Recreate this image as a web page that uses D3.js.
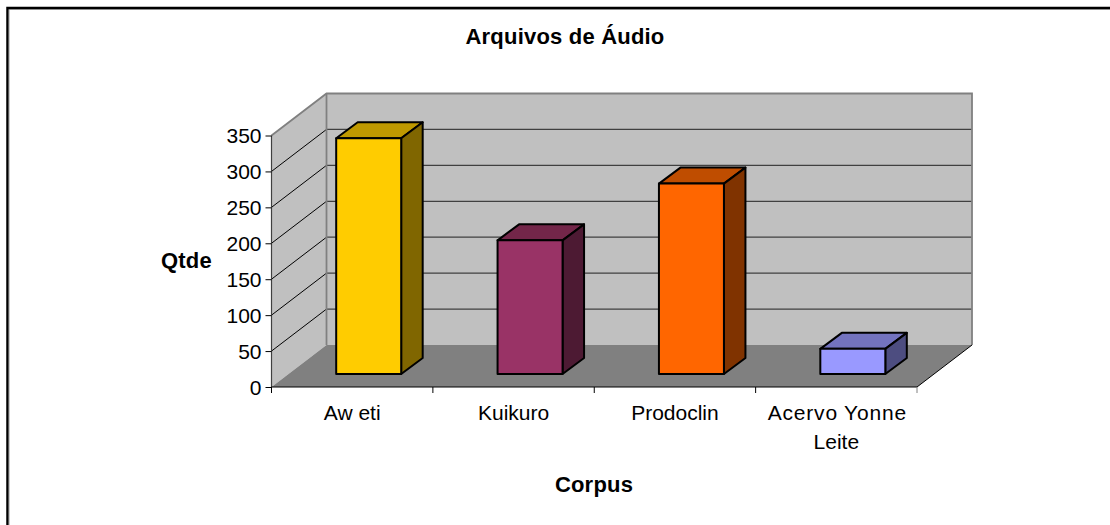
<!DOCTYPE html>
<html><head><meta charset="utf-8">
<script src="https://cdn.jsdelivr.net/npm/d3@7"></script>
<style>html,body{margin:0;padding:0;background:#fff}svg{display:block}text{font-family:"Liberation Sans",Arial,sans-serif;fill:#000}</style>
</head><body><svg width="1110" height="525"></svg>
<script>
const categories = ["Aweti","Kuikuro","Prodoclin","Acervo Yonne Leite"];
const categoryLines = [["Aw eti"],["Kuikuro"],["Prodoclin"],["Acervo Yonne","Leite"]];
const values = [328,186,265,35];
const frontColors = ["#FFCC00","#993366","#FF6600","#9999FF"];
const topColors = ["#BF9900","#732649","#BF4D00","#7373BF"];
const sideColors = ["#806600","#4D1A33","#803300","#4D4D80"];
const yTicks = [0,50,100,150,200,250,300,350];
const title = "Arquivos de Áudio", xTitle = "Corpus", yTitle = "Qtde";

const svg = d3.select("svg");
const x = d3.scaleBand().domain(categories).range([271.5,917]);
const y = d3.scaleLinear().domain([0,350]).range([387,135.5]);
const wallDx = 55, wallDy = -42;
const path = pts => d3.line()(pts);

// chart-area frame: only the top and left edges fall inside the picture
svg.append("path").attr("d","M7.5,525V8H1110").attr("fill","none").attr("stroke","#000").attr("stroke-width",2.5);
svg.append("path").attr("d","M9,525V9.5H1110").attr("fill","none").attr("stroke","#808080").attr("stroke-width",.8);

const [x0,x1] = x.range(), yb = y(0), yt = y(350);
svg.append("path").attr("d",path([[x0,yb],[x0+wallDx,yb+wallDy],[x0+wallDx,yt+wallDy],[x0,yt]])+"Z").attr("fill","#C0C0C0");
svg.append("path").attr("d",path([[x0+wallDx,yb+wallDy],[x1+wallDx,yb+wallDy],[x1+wallDx,yt+wallDy],[x0+wallDx,yt+wallDy]])+"Z").attr("fill","#C0C0C0");
svg.append("path").attr("d",path([[x0,yb],[x0+wallDx,yb+wallDy],[x1+wallDx,yb+wallDy],[x1,yb]])+"Z").attr("fill","#808080");
// gridlines
yTicks.slice(1,-1).forEach(t=>{
  svg.append("path").attr("d",path([[x0,y(t)],[x0+wallDx,y(t)+wallDy]])).attr("fill","none").attr("stroke","#000").attr("stroke-width",1);
  svg.append("path").attr("d",path([[x0+wallDx,y(t)+wallDy],[x1+wallDx,y(t)+wallDy]])).attr("fill","none").attr("stroke","#404040").attr("stroke-width",1.3);
});
// wall outlines
svg.append("path").attr("d",path([[x0,yt],[x0+wallDx,yt+wallDy],[x1+wallDx,yt+wallDy],[x1+wallDx,yb+wallDy]])).attr("fill","none").attr("stroke","#808080").attr("stroke-width",1.8);
svg.append("path").attr("d",path([[x0+wallDx,yt+wallDy],[x0+wallDx,yb+wallDy]])).attr("fill","none").attr("stroke","#808080").attr("stroke-width",1.8);
svg.append("path").attr("d",path([[x1,yb],[x1+wallDx,yb+wallDy]])).attr("fill","none").attr("stroke","#000").attr("stroke-width",1);

// bars
const barW = 65, fx = 16.5, fy = 13, bdx = 21.5, bdy = -16;
categories.forEach((c,i)=>{
  const l = x(c)+x.bandwidth()/2-barW/2+fx, r = l+barW, b = yb-fy, t = y(values[i])-fy;
  const g = svg.append("g").attr("stroke","#000").attr("stroke-width",2).attr("stroke-linejoin","round");
  g.append("path").attr("d",path([[l,t],[l+bdx,t+bdy],[r+bdx,t+bdy],[r,t]])+"Z").attr("fill",topColors[i]);
  g.append("path").attr("d",path([[r,t],[r+bdx,t+bdy],[r+bdx,b+bdy],[r,b]])+"Z").attr("fill",sideColors[i]);
  g.append("rect").attr("x",l).attr("y",t).attr("width",barW).attr("height",b-t).attr("fill",frontColors[i]);
});

// axes
const yAxis = d3.axisLeft(y).tickValues(yTicks).tickSize(6).tickPadding(4);
const ya = svg.append("g").attr("transform",`translate(${x0},0)`).call(yAxis);
ya.selectAll("text").style("font-size","21px").attr("dy","7");
ya.selectAll(".tick line").attr("stroke","#000");
ya.select(".domain").attr("d",`M0,${yt}V${yb}`).attr("stroke","#404040").attr("stroke-width",1.2);
const xAxis = d3.axisBottom(x).tickValues([]).tickSize(0);
const xa = svg.append("g").attr("transform",`translate(0,${yb})`).call(xAxis);
xa.select(".domain").attr("d",`M${x0},0H${x1}`).attr("stroke","#000").attr("stroke-width",1.2);
[...categories.map(c=>x(c)),x1].forEach(px=>{
  xa.append("line").attr("x1",px).attr("x2",px).attr("y1",0).attr("y2",6).attr("stroke",px===x1?"#808080":"#000");
});

categories.forEach((c,i)=>{
  categoryLines[i].forEach((ln,j)=>{
    svg.append("text").attr("x",x(c)+x.bandwidth()/2+(ln.length>10?1:0)).attr("y",420+j*29).attr("text-anchor","middle")
      .style("font-size","21px").style("letter-spacing",ln.length>10?"0.8px":"0").text(ln);
  });
});
const boldLabel = (px,py,s) => svg.append("text").attr("x",px).attr("y",py).attr("text-anchor","middle")
  .style("font-size","22px").style("font-weight","bold").style("letter-spacing","0.2px").text(s);
boldLabel(565,44,title);
boldLabel(594,491.5,xTitle);
boldLabel(186.5,268,yTitle);
</script></body></html>
